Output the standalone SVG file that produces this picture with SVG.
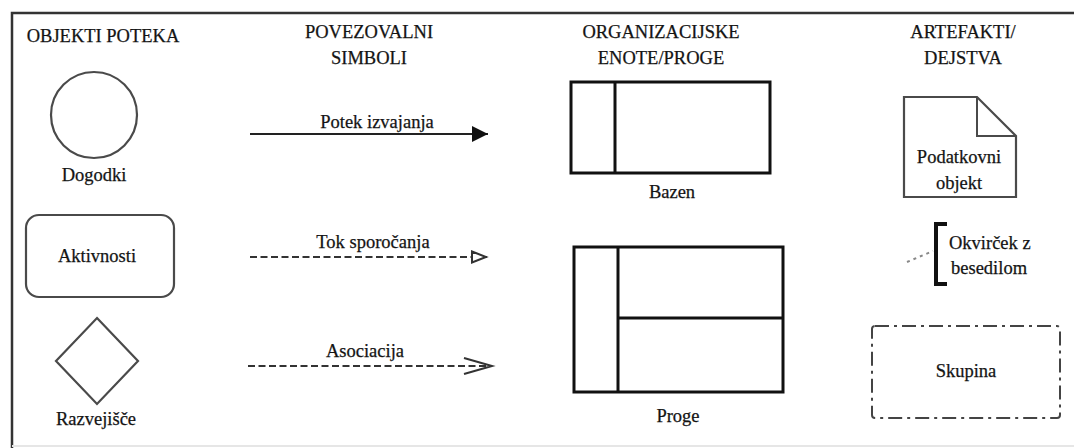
<svg xmlns="http://www.w3.org/2000/svg" width="1074" height="448" viewBox="0 0 1074 448">
  <defs>
    <style>
      .t { font-family: 'Liberation Serif', 'Times New Roman', serif; font-size: 18.5px; fill: #141414; stroke: #141414; stroke-width: 0.25; }
      .mid { text-anchor: middle; }
      .frame { stroke: #333; stroke-width: 2.5; fill: none; }
      .shape { stroke: #4a4a4a; stroke-width: 2.2; fill: #fff; }
      .pool { stroke: #111; stroke-width: 3; fill: #fff; }
      .flow { stroke: #222; stroke-width: 2; fill: none; }
      .dash { stroke: #333; stroke-width: 2; fill: none; stroke-dasharray: 7 3.5; }
    </style>
    <marker id="solidHead" markerWidth="18" markerHeight="18" refX="16" refY="8" orient="auto" markerUnits="userSpaceOnUse">
      <path d="M0,0 L16,8 L0,16 Z" fill="#111"/>
    </marker>
    <marker id="openTri" markerWidth="20" markerHeight="16" refX="17" refY="7" orient="auto" markerUnits="userSpaceOnUse">
      <path d="M2,1.5 L16,7 L2,12.5 Z" fill="#fff" stroke="#333" stroke-width="2"/>
    </marker>
    <marker id="openV" markerWidth="34" markerHeight="20" refX="30" refY="9" orient="auto" markerUnits="userSpaceOnUse">
      <path d="M2,1 L30,9 L2,17" fill="none" stroke="#333" stroke-width="2"/>
    </marker>
  </defs>

  <rect width="1074" height="448" fill="#fff"/>

  <!-- outer frame -->
  <g id="frame">
    <path class="frame" d="M12,448 L12,13 L1074,13"/>
    <line x1="12" y1="446" x2="1074" y2="446" stroke="#e6e6e6" stroke-width="2"/>
  </g>

  <!-- column headings -->
  <g id="headings">
    <text x="103" y="42" class="t mid">OBJEKTI POTEKA</text>
    <text x="369" y="38" class="t mid">POVEZOVALNI</text>
    <text x="369" y="64" class="t mid">SIMBOLI</text>
    <text x="661" y="38" class="t mid">ORGANIZACIJSKE</text>
    <text x="661" y="64" class="t mid">ENOTE/PROGE</text>
    <text x="963" y="38" class="t mid">ARTEFAKTI/</text>
    <text x="963" y="64" class="t mid">DEJSTVA</text>
  </g>

  <!-- flow objects -->
  <g id="dogodki">
    <circle class="shape" cx="94" cy="115" r="43"/>
    <text x="94" y="181" class="t mid">Dogodki</text>
  </g>
  <g id="aktivnosti">
    <rect class="shape" x="26" y="215" width="148" height="82" rx="13"/>
    <text x="97" y="262" class="t mid">Aktivnosti</text>
  </g>
  <g id="razvejisce">
    <polygon class="shape" points="97,318 138,361 97,404 56,361"/>
    <text x="96" y="425" class="t mid">Razvejišče</text>
  </g>

  <!-- connecting symbols -->
  <g id="connectors">
    <line class="flow" x1="250" y1="134" x2="488" y2="134" marker-end="url(#solidHead)"/>
    <line class="dash" x1="250" y1="257" x2="487" y2="257" marker-end="url(#openTri)"/>
    <line class="dash" x1="248" y1="366" x2="492" y2="366" marker-end="url(#openV)"/>
    <line x1="907" y1="262" x2="933" y2="251" stroke="#888" stroke-width="2" stroke-dasharray="3 4"/>
  </g>
  <g id="labels">
    <text x="377" y="128" class="t mid">Potek izvajanja</text>
    <text x="373" y="248" class="t mid">Tok sporočanja</text>
    <text x="365" y="357" class="t mid">Asociacija</text>
  </g>

  <!-- swimlanes -->
  <g id="bazen">
    <rect class="pool" x="571" y="82" width="199" height="91"/>
    <line class="pool" x1="615" y1="82" x2="615" y2="173"/>
    <text x="672" y="198" class="t mid">Bazen</text>
  </g>
  <g id="proge">
    <rect class="pool" x="574" y="247" width="209" height="145"/>
    <line class="pool" x1="618" y1="247" x2="618" y2="392"/>
    <line class="pool" x1="618" y1="318" x2="783" y2="318"/>
    <text x="678" y="422" class="t mid">Proge</text>
  </g>

  <!-- artifacts -->
  <g id="podatkovni-objekt">
    <path class="shape" d="M904,97 L977,97 L1016,136 L1016,197 L904,197 Z"/>
    <path d="M977,97 L977,136 L1016,136" fill="none" stroke="#4a4a4a" stroke-width="2"/>
    <text x="959" y="163" class="t mid">Podatkovni</text>
    <text x="959" y="189" class="t mid">objekt</text>
  </g>
  <g id="okvircek">
    <path d="M947,224 L936,224 L936,284 L947,284" fill="none" stroke="#111" stroke-width="4"/>
    <text x="949" y="249" class="t">Okvirček z</text>
    <text x="951" y="274" class="t">besedilom</text>
  </g>
  <g id="skupina">
    <rect x="872" y="326" width="188" height="92" rx="3" fill="none" stroke="#444" stroke-width="2" stroke-dasharray="14 5 3 5"/>
    <text x="966" y="377" class="t mid">Skupina</text>
  </g>
</svg>
